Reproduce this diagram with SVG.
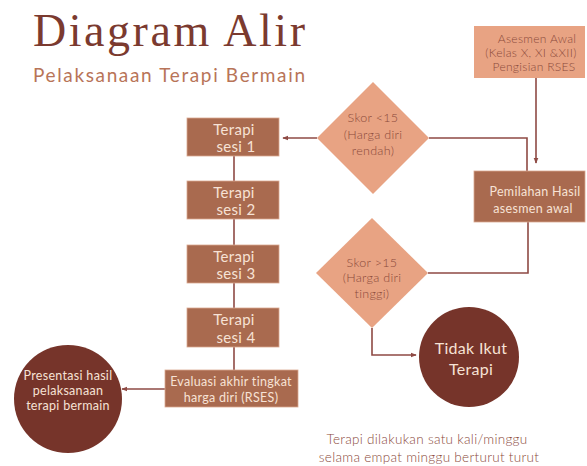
<svg xmlns="http://www.w3.org/2000/svg" width="587" height="466" viewBox="0 0 587 466">
<defs>
<marker id="ah" viewBox="0 0 8 8" refX="7" refY="4" markerWidth="6" markerHeight="6" orient="auto" markerUnits="userSpaceOnUse">
<path d="M0,0.8 L8,4 L0,7.2 z" fill="#8e4a44"/>
</marker>
<style>
.t{font-family:Lato,"Open Sans","Liberation Sans",sans-serif;font-weight:300;text-anchor:middle;letter-spacing:0.3px}
.light{fill:#f7e2d5;font-weight:400}
.dark{fill:#8b4a3b}
.box{fill:#a96a4f;stroke:#d9a890;stroke-width:0.8}
.sal{fill:#e8a383}
.circ{fill:#76342a}
.con{fill:none;stroke:#8e4a44;stroke-width:1.6}
</style>
</defs>
<rect width="587" height="466" fill="#ffffff"/>
<text x="33" y="46" font-family="'Liberation Serif',serif" font-size="46" fill="#7b3a2f" textLength="272" lengthAdjust="spacing">Diagram Alir</text>
<text x="33" y="82" font-family="Lato,'Liberation Sans',sans-serif" font-size="19" fill="#b87458" textLength="272" lengthAdjust="spacing">Pelaksanaan Terapi Bermain</text>

<g id="connectors">
<line class="con" x1="536" y1="78" x2="536" y2="163" marker-end="url(#ah)"/>
<polyline class="con" points="527,171 527,138 429,138"/>
<line class="con" x1="317" y1="138" x2="283" y2="138" marker-end="url(#ah)"/>
<line class="con" x1="234" y1="156" x2="234" y2="181"/>
<line class="con" x1="234" y1="219" x2="234" y2="245"/>
<line class="con" x1="234" y1="283" x2="234" y2="308"/>
<line class="con" x1="234" y1="347" x2="234" y2="370"/>
<line class="con" x1="165" y1="389" x2="122" y2="389" marker-end="url(#ah)"/>
<polyline class="con" points="528,222 528,273 428,273"/>
<polyline class="con" points="372,328 372,355 416,355" marker-end="url(#ah)"/>
</g>

<g id="asesmen">
<rect class="sal" x="474" y="26" width="111" height="52"/>
<text class="t dark" font-size="12" x="537" y="43">Asesmen Awal</text>
<text class="t dark" font-size="12" x="531" y="57">(Kelas X, XI &amp;XII)</text>
<text class="t dark" font-size="12" x="534" y="71">Pengisian RSES</text>
</g>

<g id="pemilahan">
<rect class="box" x="474" y="171" width="111" height="51"/>
<text class="t light" font-size="12.5" x="535" y="196">Pemilahan Hasil</text>
<text class="t light" font-size="12.5" x="533" y="213">asesmen awal</text>
</g>

<g id="skor-rendah">
<polygon class="sal" points="373,82 429,138 373,194 317,138"/>
<text class="t dark" font-size="12.5" x="373" y="122">Skor &lt;15</text>
<text class="t dark" font-size="12.5" x="373" y="139">(Harga diri</text>
<text class="t dark" font-size="12.5" x="373" y="155">rendah)</text>
</g>

<g id="skor-tinggi">
<polygon class="sal" points="372,218 428,273 372,328 316,273"/>
<text class="t dark" font-size="12.5" x="372" y="267">Skor &gt;15</text>
<text class="t dark" font-size="12.5" x="372" y="282">(Harga diri</text>
<text class="t dark" font-size="12.5" x="372" y="298">tinggi)</text>
</g>

<g id="sesi1">
<rect class="box" x="187" y="118" width="92" height="38"/>
<text class="t light" font-size="15" x="234" y="135">Terapi</text>
<text class="t light" font-size="15" x="236" y="152">sesi 1</text>
</g>
<g id="sesi2">
<rect class="box" x="187" y="181" width="92" height="38"/>
<text class="t light" font-size="15" x="234" y="198">Terapi</text>
<text class="t light" font-size="15" x="236" y="215">sesi 2</text>
</g>
<g id="sesi3">
<rect class="box" x="187" y="245" width="92" height="38"/>
<text class="t light" font-size="15" x="234" y="262">Terapi</text>
<text class="t light" font-size="15" x="236" y="279">sesi 3</text>
</g>
<g id="sesi4">
<rect class="box" x="187" y="308" width="92" height="39"/>
<text class="t light" font-size="15" x="234" y="325">Terapi</text>
<text class="t light" font-size="15" x="236" y="343">sesi 4</text>
</g>

<g id="evaluasi">
<rect class="box" x="165" y="370" width="133" height="37"/>
<text class="t light" font-size="12.5" x="231" y="386">Evaluasi akhir tingkat</text>
<text class="t light" font-size="12.5" x="231" y="402">harga diri (RSES)</text>
</g>

<g id="presentasi">
<circle class="circ" cx="68" cy="399" r="54"/>
<text class="t light" font-size="12.5" x="68" y="380">Presentasi hasil</text>
<text class="t light" font-size="12.5" x="68" y="395">pelaksanaan</text>
<text class="t light" font-size="12.5" x="68" y="410">terapi bermain</text>
</g>

<g id="tidak-ikut">
<circle class="circ" cx="469" cy="357" r="50"/>
<text class="t light" font-size="16" x="471" y="354">Tidak Ikut</text>
<text class="t light" font-size="16" x="471" y="375">Terapi</text>
</g>

<g id="catatan">
<text class="t dark" font-size="13.5" x="427" y="444">Terapi dilakukan satu kali/minggu</text>
<text class="t dark" font-size="13.5" x="429" y="462">selama empat minggu berturut turut</text>
</g>
</svg>
